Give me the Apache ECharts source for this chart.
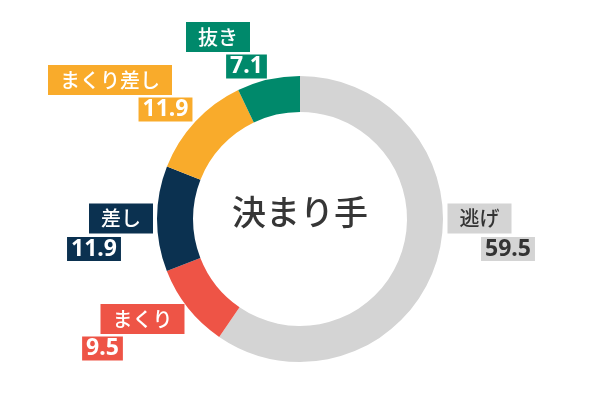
<!DOCTYPE html>
<html><head><meta charset="utf-8">
<script src="https://cdn.jsdelivr.net/npm/echarts@6/dist/echarts.min.js"></script>
<style>html,body{margin:0;padding:0;background:#fff}#c{width:600px;height:400px}</style>
</head><body><div id="c"></div>
<script>
// ---- data ----
const categories = ['逃げ', 'まくり', '差し', 'まくり差し', '抜き'];
const values = [59.5, 9.5, 11.9, 11.9, 7.1];
const centerTitle = '決まり手';

// ---- styles ----
const colors = ['#d4d4d4', '#ee5446', '#0b3150', '#f9ab2b', '#00896b'];
const textColors = ['#333333', '#ffffff', '#ffffff', '#ffffff', '#ffffff'];
const CX = 300, CY = 219;
// label box centres, relative to the pie centre
const nameOffsets = [[179.5, -0.5], [-157.5, 100], [-179, -0.5], [-190, -139], [-82, -182]];
const valueOffsets = [[208, 30], [-197.5, 129.5], [-206, 30], [-134.5, -109.5], [-53.5, -152.5]];

const jp = "'Noto Sans CJK JP', 'Noto Sans', sans-serif";

const dataRing = categories.map((c, i) => ({
  name: c, value: values[i],
  itemStyle: { color: colors[i] },
  label: { color: textColors[i], backgroundColor: colors[i] }
}));
const dataVal = categories.map((c, i) => ({
  name: c, value: values[i],
  itemStyle: { color: 'rgba(0,0,0,0)' },
  label: { color: textColors[i], backgroundColor: colors[i] }
}));

const chart = echarts.init(document.getElementById('c'));
chart.setOption({
  animation: false,
  title: {
    text: centerTitle,
    left: 'center',
    top: CY - 27,
    padding: 0,
    textStyle: { fontFamily: jp, fontSize: 34, fontWeight: 500, color: '#363636', lineHeight: 40 }
  },
  series: [
    {
      type: 'pie',
      radius: [107, 143],
      center: [CX, CY],
      startAngle: 90,
      clockwise: true,
      avoidLabelOverlap: false,
      silent: true,
      data: dataRing,
      labelLine: { show: false },
      label: {
        show: true,
        position: 'outside',
        formatter: '{b}',
        fontFamily: jp,
        fontSize: 20,
        fontWeight: 500,
        lineHeight: 22,
        padding: [4, 12]
      },
      labelLayout: p => ({
        x: CX + nameOffsets[p.dataIndex][0],
        y: CY + nameOffsets[p.dataIndex][1],
        align: 'center',
        verticalAlign: 'middle'
      })
    },
    {
      type: 'pie',
      radius: [107, 143],
      center: [CX, CY],
      startAngle: 90,
      clockwise: true,
      avoidLabelOverlap: false,
      silent: true,
      data: dataVal,
      labelLine: { show: false },
      label: {
        show: true,
        position: 'outside',
        formatter: p => p.value.toFixed(1),
        fontFamily: "'Noto Sans', sans-serif",
        fontWeight: 'bold',
        fontSize: 23,
        lineHeight: 24,
        padding: [0, 4]
      },
      labelLayout: p => ({
        x: CX + valueOffsets[p.dataIndex][0],
        y: CY + valueOffsets[p.dataIndex][1],
        align: 'center',
        verticalAlign: 'middle'
      })
    }
  ]
});
</script>
</body></html>
